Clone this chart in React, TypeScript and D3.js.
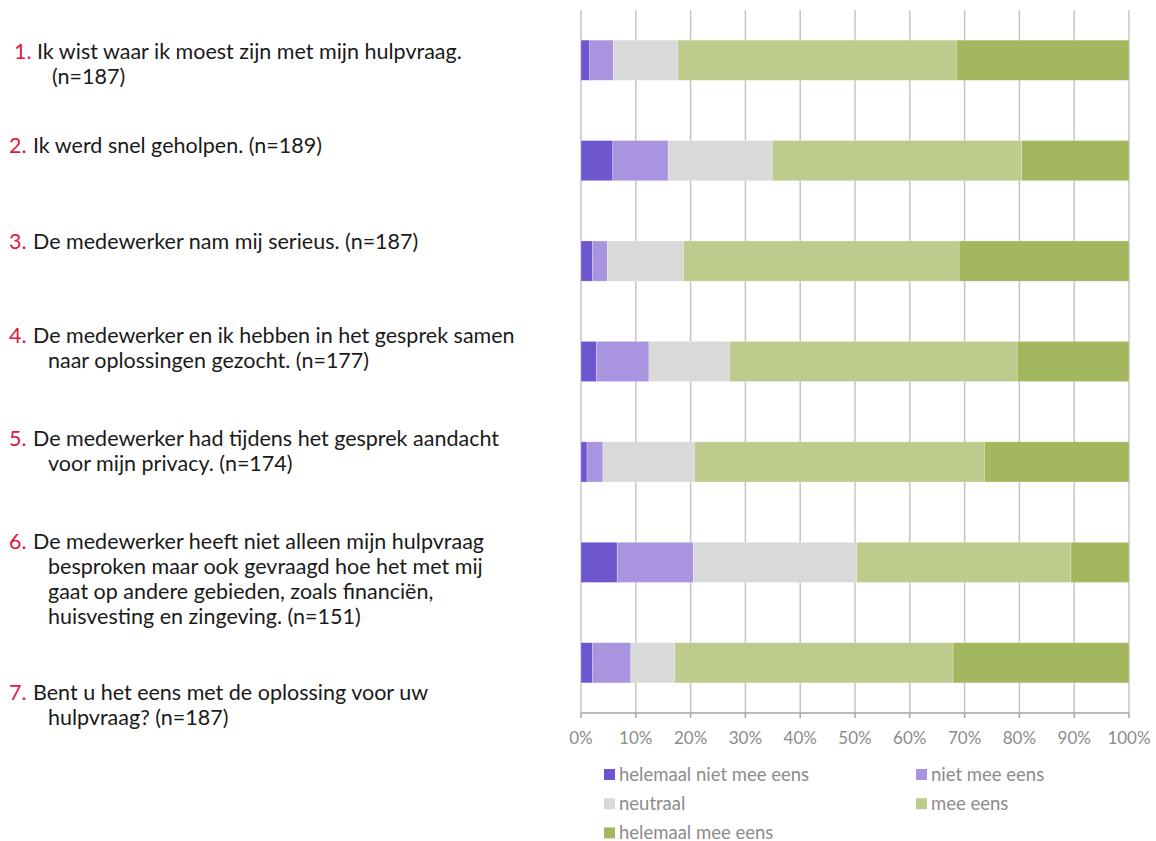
import React from "react";
import * as d3 from "d3";

const categories = ["1", "2", "3", "4", "5", "6", "7"];
const seriesNames = [
  "helemaal niet mee eens",
  "niet mee eens",
  "neutraal",
  "mee eens",
  "helemaal mee eens",
];
const heelNiet = [1.6, 5.8, 2.1, 2.8, 1.1, 6.6, 2.1];
const niet = [4.3, 10.1, 2.7, 9.6, 2.9, 13.9, 7.0];
const neutraal = [11.8, 19.0, 13.9, 14.7, 16.7, 29.8, 8.0];
const meeEens = [50.8, 45.5, 50.3, 52.5, 52.9, 39.1, 50.8];
const heelMee = [31.5, 19.6, 31.0, 20.4, 26.4, 10.6, 32.1];
const tickValues = [0, 10, 20, 30, 40, 50, 60, 70, 80, 90, 100];

const labelNumbers = ["1.", "2.", "3.", "4.", "5.", "6.", "7."];
const labelLines = [
  ["Ik wist waar ik moest zijn met mijn hulpvraag.", "(n=187)"],
  ["Ik werd snel geholpen. (n=189)"],
  ["De medewerker nam mij serieus. (n=187)"],
  ["De medewerker en ik hebben in het gesprek samen", "naar oplossingen gezocht. (n=177)"],
  ["De medewerker had tijdens het gesprek aandacht", "voor mijn privacy. (n=174)"],
  [
    "De medewerker heeft niet alleen mijn hulpvraag",
    "besproken maar ook gevraagd hoe het met mij",
    "gaat op andere gebieden, zoals financiën,",
    "huisvesting en zingeving. (n=151)",
  ],
  ["Bent u het eens met de oplossing voor uw", "hulpvraag? (n=187)"],
];

// layout (not data)
const labelTopCenters = [51, 145, 241, 335, 438, 541, 692];
const colors = ["#6E56CF", "#A994DF", "#D9D9D9", "#BDCC8C", "#A3B75F"];
const FONT = "Lato, 'Noto Sans', sans-serif";

export default function App() {
  const W = 1156;
  const H = 841;
  const x0 = 581;
  const x1 = 1129;
  const yTop = 10;
  const yBot = 713;

  const x = d3.scaleLinear().domain([0, 100]).range([x0, x1]);
  const y = d3
    .scaleBand<string>()
    .domain(categories)
    .range([yTop, yBot])
    .paddingInner(0.6)
    .paddingOuter(0.3);

  const series = [heelNiet, niet, neutraal, meeEens, heelMee];
  const rows = categories.map((c, i) => {
    const obj: any = { cat: c };
    seriesNames.forEach((s, k) => (obj[s] = series[k][i]));
    return obj;
  });
  const stacked = d3.stack<any>().keys(seriesNames)(rows);

  const legendItems = seriesNames.map((s, i) => ({
    name: s,
    color: colors[i],
    col: i % 2,
    row: Math.floor(i / 2),
  }));

  return (
    <div style={{ position: "absolute", left: 0, top: 0 }}>
      <svg width={W} height={H} style={{ display: "block", fontFamily: FONT }}>
        <rect width={W} height={H} fill="#fff" />
        {/* gridlines */}
        {tickValues.map((t) => (
          <line
            key={"g" + t}
            x1={x(t)}
            x2={x(t)}
            y1={yTop}
            y2={yBot}
            stroke="#C4C4C4"
            strokeWidth={1.5}
          />
        ))}
        {/* bars */}
        {stacked.map((layer, k) => (
          <g key={layer.key} fill={colors[k]}>
            {layer.map((d, i) => (
              <rect
                key={i}
                x={x(d[0])}
                y={y(categories[i])!}
                width={Math.max(0, x(d[1]) - x(d[0]))}
                height={y.bandwidth()}
                stroke="#fff"
                strokeOpacity={0.4}
                strokeWidth={0.6}
              />
            ))}
          </g>
        ))}
        {/* axis */}
        <line x1={x0} x2={x1} y1={yBot} y2={yBot} stroke="#A6A6A6" strokeWidth={1.5} />
        {tickValues.map((t) => (
          <g key={"t" + t}>
            <line x1={x(t)} x2={x(t)} y1={yBot} y2={yBot + 5} stroke="#A6A6A6" strokeWidth={1.5} />
            <text
              x={x(t)}
              y={yBot + 31}
              textAnchor="middle"
              fontSize={17}
              fill="#8C8C8C"
            >
              {t + "%"}
            </text>
          </g>
        ))}
        {/* legend */}
        {legendItems.map((it) => {
          const lx = 604 + it.col * 312;
          const base = 781 + it.row * 29.2;
          return (
            <g key={it.name}>
              <rect x={lx} y={base - 12} width={11} height={11} fill={it.color} />
              <text x={lx + 15} y={base} fontSize={18.5} fill="#8C8C8C">
                {it.name}
              </text>
            </g>
          );
        })}
        {/* left labels */}
        {labelLines.map((lines, i) => (
          <g key={"l" + i}>
            <text
              x={i === 0 ? 14 : 9}
              y={labelTopCenters[i] + 7.5}
              fontSize={21.5}
              fill="#E3173E"
            >
              {labelNumbers[i]}
            </text>
            {lines.map((ln, j) => (
              <text
                key={j}
                x={j === 0 ? (i === 0 ? 37 : 33) : i === 0 ? 52 : 48}
                y={labelTopCenters[i] + j * 25 + 7.5}
                fontSize={21.5}
                fill="#1a1a1a"
              >
                {ln}
              </text>
            ))}
          </g>
        ))}
      </svg>
    </div>
  );
}
